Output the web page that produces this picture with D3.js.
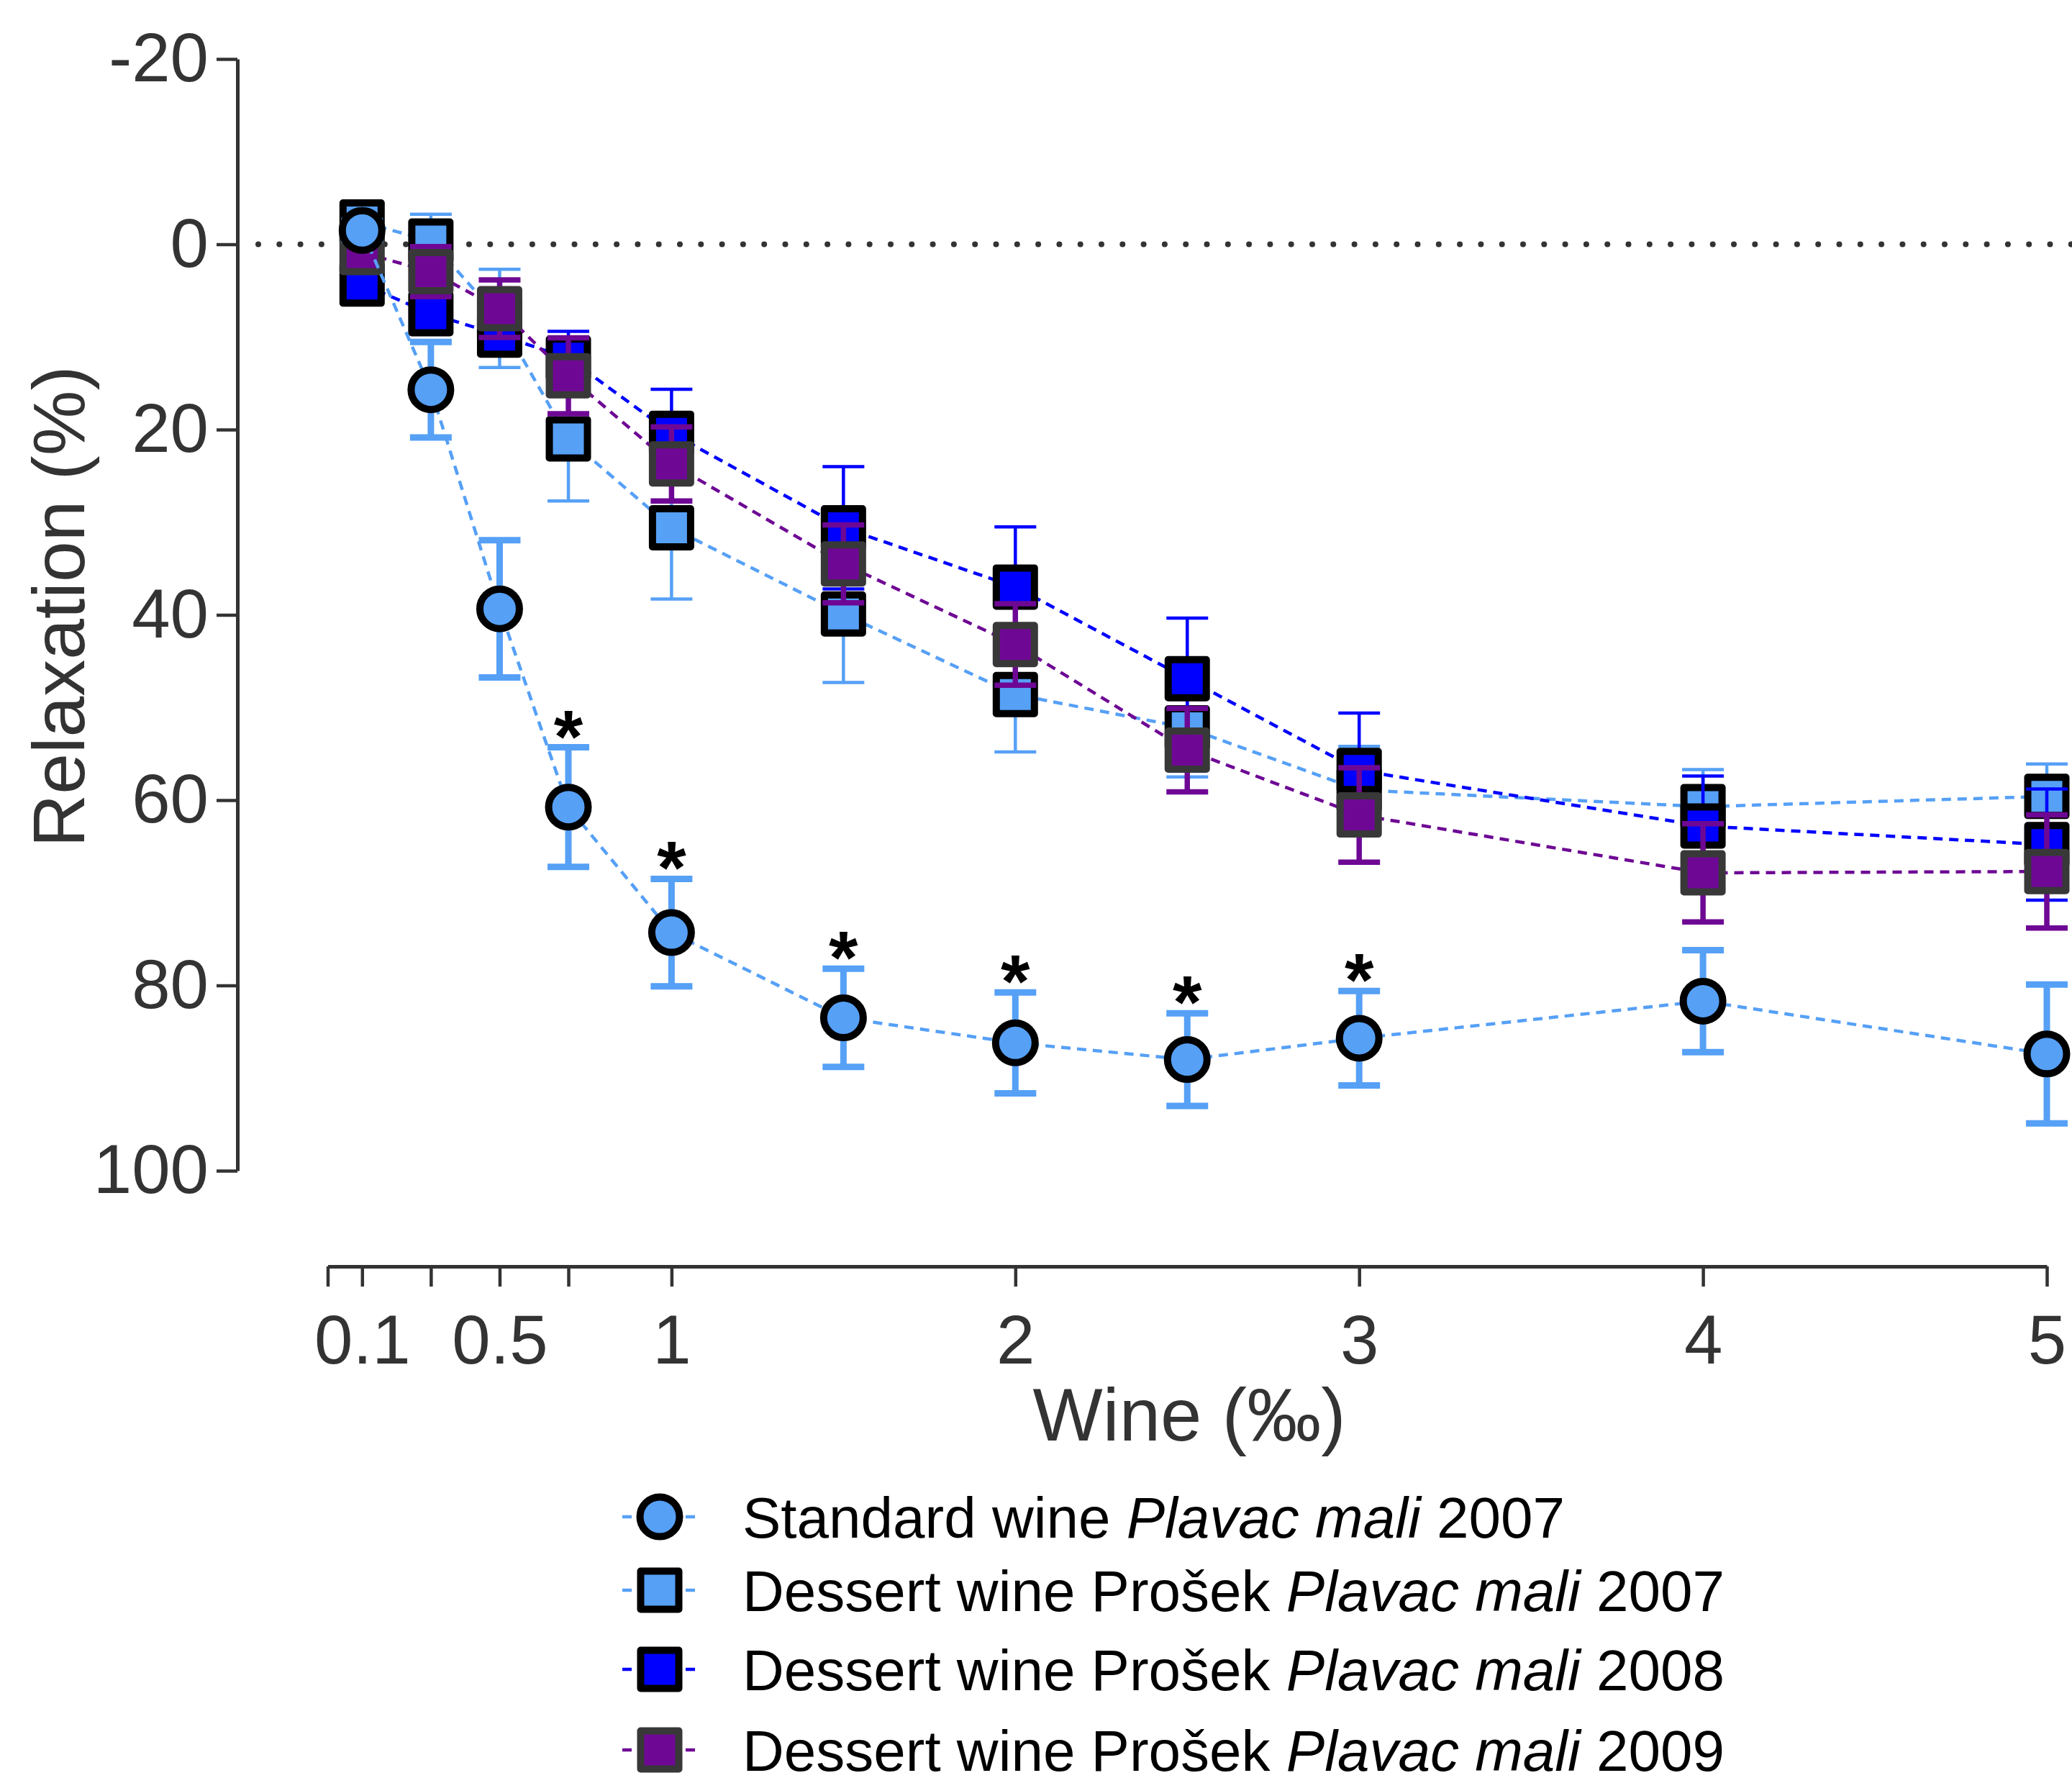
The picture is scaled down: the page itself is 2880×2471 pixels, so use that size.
<!DOCTYPE html>
<html lang="en">
<head>
  <meta charset="utf-8">
  <title>Relaxation vs wine concentration</title>
  <script src="https://cdn.jsdelivr.net/npm/d3@7/dist/d3.min.js"></script>
  <style>
    html, body { margin: 0; padding: 0; background: #fff; }
    svg { display: block; font-family: "Liberation Sans", Arial, Helvetica, sans-serif; }
  </style>
</head>
<body>
  <div id="chart"></div>

  <script>
    /*********************************************************************
     * 1.  Data                                     *
     *********************************************************************/
    const doses = [0.1, 0.3, 0.5, 0.7, 1, 1.5, 2, 2.5, 3, 4, 5];

    const standardMean = [-1.5, 15.7, 39.35, 60.75, 74.3, 83.5, 86.2, 88.0, 85.7, 81.7, 87.4];
    const standardSem  = [1.0, 5.15, 7.4, 6.45, 5.8, 5.3, 5.45, 5.0, 5.1, 5.5, 7.5];

    const dessert07Mean = [-2.4, -0.35, 8.0, 21.0, 30.6, 39.9, 48.6, 52.2, 58.9, 60.7, 59.6];
    const dessert07Sem  = [1.5, 2.9, 5.3, 6.7, 7.7, 7.4, 6.2, 5.3, 4.7, 4.0, 3.5];

    const dessert08Mean = [4.3, 7.5, 9.8, 12.3, 20.4, 30.6, 37.0, 46.9, 56.8, 62.8, 64.8];
    const dessert08Sem  = [1.5, 2.0, 1.8, 2.9, 4.75, 6.6, 6.5, 6.55, 6.2, 5.4, 6.0];

    const dessert09Mean = [0.9, 2.95, 6.95, 14.2, 23.7, 34.5, 43.2, 54.6, 61.6, 67.85, 67.7];
    const dessert09Sem  = [1.5, 2.7, 3.1, 4.1, 4.0, 4.2, 4.4, 4.5, 5.1, 5.3, 6.1];

    // doses where the standard wine differs significantly (*)
    const sigDoses = [0.7, 1, 1.5, 2, 2.5, 3];

    const yTicks = [-20, 0, 20, 40, 60, 80, 100];
    const xTicks = [0, 0.1, 0.3, 0.5, 0.7, 1, 2, 3, 4, 5];
    const xTickLabels = { 0.1: '0.1', 0.5: '0.5', 1: '1', 2: '2', 3: '3', 4: '4', 5: '5' };

    /*********************************************************************
     * 2.  Series styling (order = drawing order, last on top)            *
     *********************************************************************/
    const LIGHT = '#56a0f6', BLUE = '#0000ff', PURPLE = '#6e0894';

    const series = [
      { key: 'd07', mean: dessert07Mean, sem: dessert07Sem, shape: 'square',
        fill: LIGHT, stroke: '#000', line: LIGHT, errW: 4.5 },
      { key: 'd08', mean: dessert08Mean, sem: dessert08Sem, shape: 'square',
        fill: BLUE, stroke: '#000', line: BLUE, errW: 4.5 },
      { key: 'd09', mean: dessert09Mean, sem: dessert09Sem, shape: 'square',
        fill: PURPLE, stroke: '#383838', line: PURPLE, errW: 7.5 },
      { key: 'std', mean: standardMean, sem: standardSem, shape: 'circle',
        fill: LIGHT, stroke: '#000', line: LIGHT, errW: 9 }
    ];

    const legendLabels = [
      ['Standard wine ', 'Plavac mali', ' 2007'],
      ['Dessert wine Prošek ', 'Plavac mali', ' 2007'],
      ['Dessert wine Prošek ', 'Plavac mali', ' 2008'],
      ['Dessert wine Prošek ', 'Plavac mali', ' 2009']
    ];
    const legendStyle = [series[3], series[0], series[1], series[2]];

    /*********************************************************************
     * 3.  Canvas + scales                                                *
     *********************************************************************/
    const W = 2880, H = 2471;
    const AXIS = '#333';

    const svg = d3.select('#chart').append('svg')
      .attr('width', W).attr('height', H);

    const x = d3.scaleLinear().domain([0, 5]).range([455.5, 2845]);
    const y = d3.scaleLinear().domain([-20, 100]).range([82, 1627]);

    const yAxisX = 330, xAxisY = 1760;

    /*********************************************************************
     * 4.  Axes                                                           *
     *********************************************************************/
    const gy = svg.append('g')
      .attr('transform', `translate(${yAxisX},0)`)
      .call(d3.axisLeft(y).tickValues(yTicks).tickSize(29).tickSizeOuter(0).tickPadding(11)
              .tickFormat(d => String(d)));   // plain hyphen, as in the figure

    const gx = svg.append('g')
      .attr('transform', `translate(0,${xAxisY})`)
      .call(d3.axisBottom(x).tickValues(xTicks).tickSize(28).tickSizeOuter(0).tickPadding(39)
              .tickFormat(d => xTickLabels[d] || ''));

    [gx, gy].forEach(g => {
      g.select('.domain').attr('stroke', AXIS).attr('stroke-width', 5);
      g.selectAll('.tick line').attr('stroke', AXIS).attr('stroke-width', 4.5);
      g.selectAll('.tick text').attr('fill', AXIS)
        .attr('font-size', 96).attr('font-family', 'inherit');
    });

    // axis titles
    svg.append('text')
      .attr('transform', 'translate(117,843) rotate(-90)')
      .attr('text-anchor', 'middle')
      .attr('font-size', 102).attr('fill', AXIS)
      .text('Relaxation (%)');

    svg.append('text')
      .attr('x', 1653).attr('y', 2002)
      .attr('text-anchor', 'middle')
      .attr('font-size', 103).attr('fill', AXIS)
      .text('Wine (‰)');

    // dotted zero line
    svg.append('line')
      .attr('x1', 359).attr('x2', W)
      .attr('y1', y(0)).attr('y2', y(0))
      .attr('stroke', AXIS).attr('stroke-width', 8)
      .attr('stroke-linecap', 'round')
      .attr('stroke-dasharray', '0 29.3');

    /*********************************************************************
     * 5.  Series: dashed line, error bars, markers                       *
     *********************************************************************/
    const SQ = 53, R = 27.5, MARK_W = 10, CAP = 29;

    function drawMarker (g, shape, s, cx, cy) {
      if (shape === 'circle') {
        g.append('circle').attr('cx', cx).attr('cy', cy).attr('r', R)
          .attr('fill', s.fill).attr('stroke', s.stroke).attr('stroke-width', MARK_W);
      } else {
        g.append('rect').attr('x', cx - SQ / 2).attr('y', cy - SQ / 2)
          .attr('width', SQ).attr('height', SQ)
          .attr('fill', s.fill).attr('stroke', s.stroke).attr('stroke-width', MARK_W)
          .attr('stroke-linejoin', 'round');
      }
    }

    const line = d3.line().x(d => x(d.dose)).y(d => y(d.mean));

    series.forEach(s => {
      const pts = doses.map((d, i) => ({ dose: d, mean: s.mean[i], sem: s.sem[i] }));
      const g = svg.append('g').attr('class', 'series-' + s.key);

      g.append('path').datum(pts)
        .attr('d', line)
        .attr('fill', 'none')
        .attr('stroke', s.line).attr('stroke-width', 4.5)
        .attr('stroke-dasharray', '13 9');

      const err = g.append('g').attr('stroke', s.line).attr('stroke-width', s.errW);
      pts.forEach(p => {
        const cx = x(p.dose), top = y(p.mean - p.sem), bot = y(p.mean + p.sem);
        err.append('line').attr('x1', cx).attr('x2', cx).attr('y1', top).attr('y2', bot);
        err.append('line').attr('x1', cx - CAP).attr('x2', cx + CAP).attr('y1', top).attr('y2', top);
        err.append('line').attr('x1', cx - CAP).attr('x2', cx + CAP).attr('y1', bot).attr('y2', bot);
      });

      pts.forEach(p => drawMarker(g, s.shape, s, x(p.dose), y(p.mean)));
    });

    // significance asterisks above the standard-wine error bars
    svg.append('g').selectAll('text')
      .data(sigDoses)
      .join('text')
        .attr('x', d => x(d))
        .attr('y', d => {
          const i = doses.indexOf(d);
          return y(standardMean[i] - standardSem[i]) - 39 + 60;
        })
        .attr('text-anchor', 'middle')
        .attr('font-size', 104).attr('font-weight', 'bold')
        .attr('fill', '#000')
        .text('*');

    /*********************************************************************
     * 6.  Legend                                                         *
     *********************************************************************/
    const legendY = [2108, 2210, 2320, 2432];
    const legend = svg.append('g');

    legendLabels.forEach((parts, i) => {
      const s = legendStyle[i], cy = legendY[i];
      legend.append('line')
        .attr('x1', 865).attr('x2', 972).attr('y1', cy).attr('y2', cy)
        .attr('stroke', s.line).attr('stroke-width', 4.5)
        .attr('stroke-dasharray', '13 9');
      drawMarker(legend, s.shape, s, 917, cy);

      const t = legend.append('text')
        .attr('x', 1032).attr('y', cy + 29)
        .attr('font-size', 80).attr('fill', '#000');
      t.append('tspan').text(parts[0]);
      t.append('tspan').attr('font-style', 'italic').text(parts[1]);
      t.append('tspan').text(parts[2]);
    });
  </script>
</body>
</html>
